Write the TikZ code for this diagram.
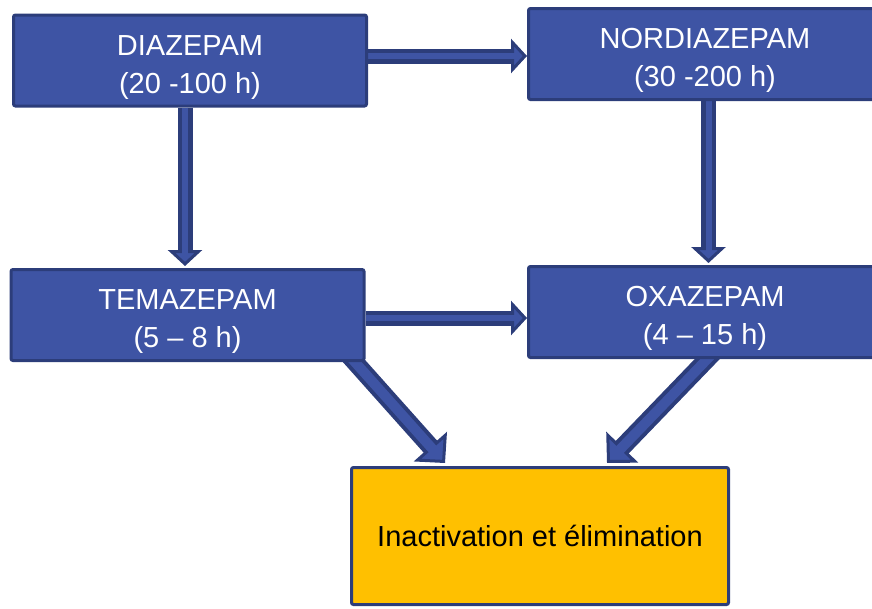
\documentclass[tikz,border=0pt]{standalone}
\usepackage{fontspec}
\setmainfont{Liberation Sans}
\usetikzlibrary{arrows.meta,backgrounds}
\definecolor{boxfill}{HTML}{3E54A4}
\definecolor{boxline}{HTML}{2C3D7A}
\definecolor{endfill}{HTML}{FFC000}
\tikzset{
  drugbox/.style={draw=boxline,fill=boxfill,text=white,line width=3pt,rounded corners=2pt,align=center,inner sep=0pt,minimum width=353pt,minimum height=91pt,text height=71pt,text depth=6pt},
  endbox/.style={draw=boxline,fill=endfill,text=black,line width=3pt,rounded corners=2pt,align=center,minimum width=377pt,minimum height=137pt},
  aouter/.style={draw=boxline,line width=15pt,-{Triangle[length=16pt,width=34pt,line width=3pt,fill=boxfill]}},
  ainner/.style={draw=boxfill,line width=6pt,shorten >=12pt},
  aouterwide/.style={draw=boxline,line width=18pt,-{Triangle[length=22pt,width=44pt,line width=3pt,fill=boxfill]}},
  ainnerwide/.style={draw=boxfill,line width=10pt,shorten >=16pt}
}
\newcommand{\blockflow}[3][]{%
  \draw[aouter#1] #2 -- #3;
  \draw[ainner#1] #2 -- #3;}

\begin{document}
\begin{tikzpicture}[x=1pt,y=-1pt,font=\fontsize{29}{38}\selectfont]
  \useasboundingbox (0,0) rectangle (872,608);
  \node[drugbox] (dia) at (190,60.5) {DIAZEPAM\\(20 -100 h)};
  \node[drugbox] (nord) at (705,54) {NORDIAZEPAM\\(30 -200 h)};
  \node[drugbox] (tema) at (187.5,315) {TEMAZEPAM\\(5 – 8 h)};
  \node[drugbox] (oxa) at (705,312) {OXAZEPAM\\(4 – 15 h)};
  \node[endbox] (fin) at (540,536) {Inactivation et élimination};
  \begin{scope}[on background layer]
    \blockflow{([yshift=-2pt]dia.east |- nord.west)}{([yshift=-2pt]nord.west)}
    \blockflow{([yshift=-3pt]tema.east)}{([yshift=-3pt]tema.east -| oxa.west)}
    \blockflow{([xshift=-5pt]dia.south)}{([xshift=-5pt,yshift=2pt]dia.south |- tema.north)}
    \blockflow{([xshift=3.5pt]nord.south)}{([xshift=3.5pt,yshift=2pt]nord.south |- oxa.north)}
    \blockflow[wide]{([shift={(-16pt,6pt)}]tema.south east)}{([xshift=-95pt,yshift=3pt]fin.north)}
    \blockflow[wide]{([shift={(10pt,8pt)}]oxa.south)}{([xshift=67pt,yshift=3pt]fin.north)}
  \end{scope}
\end{tikzpicture}
\end{document}
